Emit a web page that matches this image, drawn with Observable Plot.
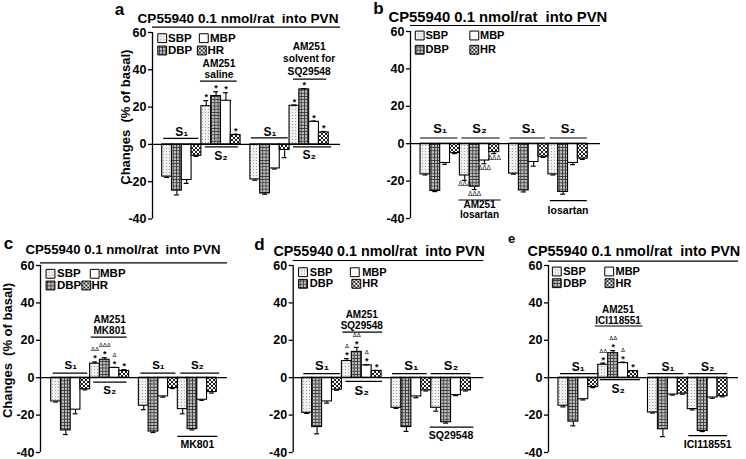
<!DOCTYPE html>
<html><head><meta charset="utf-8">
<script src="https://cdn.jsdelivr.net/npm/d3@7"></script>
<script src="https://cdn.jsdelivr.net/npm/@observablehq/plot@0.6"></script>
<style>
html,body{margin:0;padding:0;background:#fff;}
#fig{position:relative;width:746px;height:459px;overflow:hidden;font-family:"Liberation Sans",Arial,sans-serif;}
#fig > div{position:absolute;}
</style></head><body>
<svg width="0" height="0" style="position:absolute">
<defs>
<pattern id="pSBP" width="3" height="3" patternUnits="userSpaceOnUse">
 <rect width="3" height="3" fill="#f0f0f0"/><rect x="1" y="1" width="1" height="1" fill="#a0a0a0"/>
</pattern>
<pattern id="pDBP" width="3.2" height="3.2" patternUnits="userSpaceOnUse">
 <rect width="3.2" height="3.2" fill="#bcbcbc"/><path d="M0 0.4H3.2M0.4 0V3.2" stroke="#333" stroke-width="0.8"/>
</pattern>
<pattern id="pHR" width="4" height="4" patternUnits="userSpaceOnUse">
 <rect width="4" height="4" fill="#fff"/><path d="M0 0L4 4M4 0L0 4" stroke="#222" stroke-width="1"/>
</pattern>
</defs></svg>
<div id="fig"></div>
<script>
// ---------- data ----------
const measures = ["SBP", "DBP", "MBP", "HR"];
const yTicks = [-40, -20, 0, 20, 40, 60];
const title = "CP55940 0.1 nmol/rat\u00a0 into PVN";
const yLabel = "Changes\u00a0 (% of basal)";

// order per panel: S1 | S2 | S1 | S2, each SBP, DBP, MBP, HR
const aMean = [-17.3, -24.8, -19.1, -6.1, 20.5, 25.9, 23.4, 5.0, -18.8, -26.3, -12.9, -3.0, 20.7, 29.5, 12.1, 6.4];
const aSem  = [0.4, 2.3, 1.8, 0.3, 3.0, 2.3, 4.3, 0.5, 0.4, 0.4, 0.3, 4.1, 0.4, 0.4, 0.4, 0.5];
const aStar = ["", "", "", "", "*", "*", "*", "*", "", "", "", "", "*", "*", "*", "*"];
const aDelta = [];

const bMean = [-16.4, -25.3, -10.3, -5.0, -17.0, -23.0, -9.0, -4.5, -16.0, -25.0, -9.8, -7.0, -16.4, -25.8, -10.3, -8.0];
const bSem  = [0.3, 0.3, 0.7, 0.3, 2.6, 1.5, 1.7, 0.8, 0.3, 0.8, 2.2, 0.3, 0.3, 1.2, 0.9, 0.4];
const bStar = [];
const bDelta = ["", "", "", "", "ΔΔΔ", "ΔΔΔ", "ΔΔΔ", "ΔΔΔ"];

const cMean = [-12.7, -28.2, -17.1, -6.2, 7.5, 9.6, 5.2, 3.6, -15.0, -28.8, -10.0, -5.5, -16.8, -27.5, -11.8, -7.7];
const cSem  = [0.3, 2.2, 2.2, 0.3, 0.9, 1.1, 0.3, 0.7, 2.1, 0.5, 0.4, 0.3, 2.5, 0.4, 0.3, 0.5];
const cStar = ["", "", "", "", "*", "*", "*", "*"];
const cDelta = ["", "", "", "", "ΔΔ", "ΔΔΔ", "Δ", ""];

const dMean = [-18.8, -26.4, -12.7, -6.4, 8.9, 13.8, 6.6, 3.6, -16.1, -26.4, -10.0, -6.8, -16.1, -23.8, -9.3, -6.8];
const dSem  = [0.3, 3.6, 0.9, 0.3, 1.3, 2.4, 0.3, 0.3, 0.3, 2.3, 0.7, 0.3, 1.8, 0.5, 0.3, 0.3];
const dStar = ["", "", "", "", "*", "*", "*", "*"];
const dDelta = ["", "", "", "", "Δ", "ΔΔ", "Δ", ""];

const eMean = [-15.0, -23.5, -11.5, -5.0, 6.9, 13.1, 7.8, 3.5, -18.6, -27.6, -9.0, -8.5, -16.8, -28.5, -10.6, -9.9];
const eSem  = [0.6, 2.2, 0.4, 0.3, 0.9, 1.4, 0.5, 0.3, 0.3, 3.9, 0.3, 0.3, 0.4, 0.3, 0.4, 0.3];
const eStar = ["", "", "", "", "*", "*", "*", "*"];
const eDelta = ["", "", "", "", "ΔΔ", "ΔΔ", "Δ", ""];

// ---------- styles ----------
const fills = {SBP: "url(#pSBP)", DBP: "url(#pDBP)", MBP: "#fff", HR: "url(#pHR)"};
const FONT = "'Liberation Sans', Arial, Helvetica, sans-serif";

// ---------- layout ----------
const panels = [
  {letter: "a", mean: aMean, sem: aSem, star: aStar, delta: aDelta,
   left: 0, top: 0, width: 346, height: 230, ml: 152, mr: 6, mt: 32, mb: 11.5, xdom: [-0.99, 18.2],
   titleX: 137, titleY: 18, titleFont: 13.6, letterX: 119, letterY: 9, letterFont: 17, titleLine: 26.7,
   ylab: [125, 116.7], legFont: 11.5,
   leg: {SBP: [161.7, 37.7, 167.5], DBP: [161.7, 50, 167.5], MBP: [203.3, 37.7, 209.5], HR: [201.3, 50, 207]},
   texts: [[2, "S₁", -12, 12], [6, "S₂", 11.4, 12], [11, "S₁", -12.6, 12], [15, "S₂", 10.7, 12],
           [5.8, "AM251", -80.5, 10.2], [5.8, "saline", -70, 10.2], [15, "AM251", -97.5, 10.2],
           [15, "solvent for", -85.5, 10.2], [15, "SQ29548", -73, 10.2]],
   lines: [[0.16, 3.74, -6], [4.4, 7.8, 2.4], [9.1, 12.86, -6.6], [13.4, 17.3, 2.4], [3.9, 7.65, -63.3], [13.4, 16.8, -65.3]]},
  {letter: "b", mean: bMean, sem: bSem, star: bStar, delta: bDelta,
   left: 370, top: 0, width: 376, height: 230, ml: 40, mr: 146, mt: 31, mb: 12, xdom: [-1.02, 18.3],
   titleX: 388, titleY: 17, titleFont: 14.8, letterX: 378, letterY: 8, letterFont: 17, titleLine: 25,
   ylab: null, legFont: 11,
   leg: {SBP: [419.2, 35, 425], DBP: [419.2, 49.3, 425], MBP: [473.8, 35, 479.5], HR: [473.8, 49.3, 479.5]},
   texts: [[2, "S₁", -14.7, 13], [6, "S₂", -14.7, 13], [11, "S₁", -14.7, 13], [15, "S₂", -14.7, 13],
           [6, "AM251", 61, 10], [6, "losartan", 71.2, 10], [15, "losartan", 67, 10.5]],
   lines: [[0, 3.8, -5.7], [4.2, 8.1, -5.7], [9.1, 12.7, -5.7], [13.2, 16.96, -5.7], [3.9, 8.2, 56.3], [13.2, 16.96, 57]]},
  {letter: "c", mean: cMean, sem: cSem, star: cStar, delta: cDelta,
   left: 0, top: 230, width: 245, height: 229, ml: 40, mr: 18, mt: 35, mb: 7, xdom: [-1.1, 18.1],
   titleX: 25, titleY: 249.5, titleFont: 13.2, letterX: 8, letterY: 243, letterFont: 17, titleLine: 262.3,
   ylab: [7, 350], legFont: 11.5,
   leg: {SBP: [50, 273.3, 56.5], DBP: [50, 285, 56.5], MBP: [94.2, 273.3, 99.5], HR: [85.8, 285, 91]},
   texts: [[2, "S₁", -12.3, 11.5], [6, "S₂", 12.7, 11.5], [11, "S₁", -12.3, 11.5], [15, "S₂", -12.3, 11.5],
           [6, "AM251", -57.8, 10], [6, "MK801", -47.3, 10], [15, "MK801", 66.7]],
   lines: [[0.2, 3.75, -4.6], [4.36, 7.78, 4.4], [9.2, 12.8, -4.6], [13.3, 17.3, -4.6], [4.1, 7.8, -40.6], [13, 17.1, 58.7]]},
  {letter: "d", mean: dMean, sem: dSem, star: dStar, delta: dDelta,
   left: 245, top: 230, width: 250, height: 229, ml: 47.7, mr: 11.7, mt: 35, mb: 7, xdom: [-0.91, 18.3],
   titleX: 273, titleY: 250.8, titleFont: 14.3, letterX: 259, letterY: 244, letterFont: 17, titleLine: 260,
   ylab: null, legFont: 11,
   leg: {SBP: [302.5, 271.7, 309.3], DBP: [302.5, 283.3, 309.3], MBP: [354.3, 271.7, 361.7], HR: [355.8, 283.3, 361.7]},
   texts: [[2, "S₁", -12.3, 13], [6, "S₂", 13.4, 13], [11, "S₁", -12.3, 13], [15, "S₂", -12.3, 13],
           [6, "AM251", -62.8, 10], [6, "SQ29548", -52.3, 10], [15, "SQ29548", 58.4]],
   lines: [[0.16, 3.87, -4], [4.4, 8.1, 3.7], [9.1, 12.6, -4], [13, 17, -4], [4.1, 8.1, -45.6], [12.9, 17.3, 49.4]]},
  {letter: "e", mean: eMean, sem: eSem, star: eStar, delta: eDelta,
   left: 495, top: 230, width: 251, height: 229, ml: 53, mr: 8, mt: 35, mb: 7, xdom: [-1.0, 18.1],
   titleX: 527, titleY: 251, titleFont: 14.4, letterX: 511, letterY: 238, letterFont: 13, titleLine: 260.7,
   ylab: null, legFont: 11,
   leg: {SBP: [556.3, 271, 562.7], DBP: [556.3, 282.7, 562.7], MBP: [608.7, 271, 615], HR: [609, 282.7, 615]},
   texts: [[2, "S₁", -11, 12], [6, "S₂", 11, 12], [11, "S₁", -11, 12], [15, "S₂", -11, 12],
           [6, "AM251", -67.8, 10], [6, "ICI118551", -57.3, 10], [15, "ICI118551", 67]],
   lines: [[0.2, 4.1, -4], [4.2, 8.25, 2], [9, 12.6, -4], [13.1, 17, -4], [3.7, 8.5, -51.7], [13.1, 17, 58]]}
];

const fig = document.getElementById("fig");

function buildPanel(P) {
  const rows = P.mean.map((v, i) => {
    const g = Math.floor(i / 4), k = i % 4;
    const slot = g * 4 + (g >= 2 ? 1 : 0) + k;
    return {i, g, m: measures[k], slot, mean: v, end: v + Math.sign(v) * P.sem[i],
            star: P.star[i] || "", delta: P.delta[i] || ""};
  });
  const ox = P.left + P.ml, oy = P.top + P.mt;
  const at = (px, py) => ({frameAnchor: "top-left", dx: px - ox, dy: py - oy, lineAnchor: "middle"});
  const marks = [];
  // bars
  for (const m of measures) {
    marks.push(Plot.rectY(rows.filter(r => r.m === m), {
      x1: "slot", x2: r => r.slot + 1, y1: 0, y2: "mean", inset: 0,
      fill: fills[m], stroke: "#000", strokeWidth: 1.1
    }));
  }
  // error bars
  marks.push(Plot.ruleX(rows, {x: r => r.slot + 0.5, y1: "mean", y2: "end", stroke: "#000", strokeWidth: 1.1}));
  marks.push(Plot.ruleY(rows, {y: "end", x1: r => r.slot + 0.25, x2: r => r.slot + 0.75, stroke: "#000", strokeWidth: 1.2}));
  // significance
  marks.push(Plot.text(rows.filter(r => r.star), {x: r => r.slot + 0.5, y: "end", text: "star",
    lineAnchor: "bottom", dy: -0.5, fontSize: 9, fontWeight: "bold"}));
  marks.push(Plot.text(rows.filter(r => r.delta && r.mean > 0), {x: r => r.slot + 0.5, y: "end", text: "delta",
    lineAnchor: "bottom", dy: -10.5, fontSize: 6, fontWeight: "normal"}));
  marks.push(Plot.text(rows.filter(r => r.delta && r.mean < 0), {x: r => r.slot + 0.5, y: "end", text: "delta",
    lineAnchor: "top", dy: 1.5, fontSize: 6.5, fontWeight: "normal"}));
  // axes
  marks.push(Plot.ruleY([0], {stroke: "#000", strokeWidth: 1.3}));
  marks.push(Plot.ruleX([P.xdom[0]], {stroke: "#000", strokeWidth: 1.3}));
  marks.push(Plot.axisY({ticks: yTicks, tickSize: 4, tickPadding: 2, tickFormat: d => String(d),
    fontSize: 12.5, fontWeight: "bold", stroke: "#000", strokeWidth: 1.3, label: null}));
  // group annotations
  for (const [x, t, dy, fs] of P.texts) {
    marks.push(Plot.text([t], {x: () => x, y: () => 0, text: d => d, dy, lineAnchor: "middle",
      fontSize: fs || 10.5, fontWeight: "bold"}));
  }
  for (const [x1, x2, dy] of P.lines) {
    marks.push(Plot.ruleY([0], {x1: () => x1, x2: () => x2, dy, stroke: "#000", strokeWidth: 1.2}));
  }
  // title
  marks.push(Plot.ruleY([60], {dy: P.titleLine - oy, stroke: "#000", strokeWidth: 1.2}));
  marks.push(Plot.text([title], {...at(P.titleX, P.titleY), text: d => d, textAnchor: "start",
    fontSize: P.titleFont, fontWeight: "bold"}));
  marks.push(Plot.text([P.letter], {...at(P.letterX, P.letterY), text: d => d, textAnchor: "middle",
    fontSize: P.letterFont, fontWeight: "bold"}));
  // legend
  for (const m of measures) {
    const [cx, cy, tx] = P.leg[m];
    marks.push(Plot.dot([m], {...at(cx, cy), symbol: "square", r: 5, fill: fills[m], stroke: "#000", strokeWidth: 1}));
    marks.push(Plot.text([m], {...at(tx, cy), text: d => d, textAnchor: "start", fontSize: P.legFont, fontWeight: "bold"}));
  }
  // y label
  if (P.ylab) {
    marks.push(Plot.text([yLabel], {...at(P.ylab[0], P.ylab[1]), text: d => d, rotate: -90, textAnchor: "middle",
      fontSize: 13, fontWeight: "bold"}));
  }
  const svg = Plot.plot({
    width: P.width, height: P.height,
    marginLeft: P.ml, marginRight: P.mr, marginTop: P.mt, marginBottom: P.mb,
    x: {type: "linear", domain: P.xdom, axis: null},
    y: {type: "linear", domain: [-40, 60], axis: null},
    style: {fontFamily: FONT, fontWeight: "bold", color: "#000", background: "transparent", overflow: "visible"},
    marks
  });
  const div = document.createElement("div");
  div.style.left = P.left + "px";
  div.style.top = P.top + "px";
  div.appendChild(svg);
  fig.appendChild(div);
}

panels.forEach(buildPanel);
</script>
</body></html>
